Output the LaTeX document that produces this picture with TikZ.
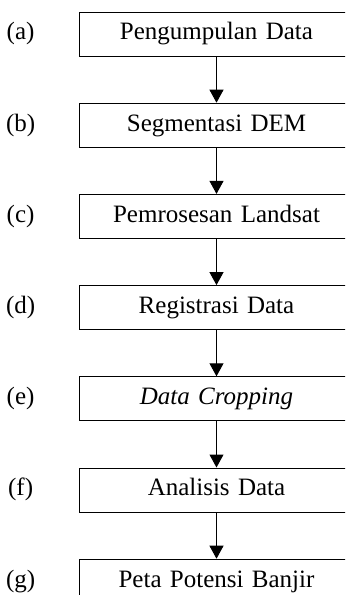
\documentclass[tikz,border=0pt]{standalone}
\usepackage{fontspec}
\setmainfont{Liberation Serif}
\usetikzlibrary{arrows.meta, positioning}

\begin{document}
\begin{tikzpicture}[node distance=23.1pt, font=\fontsize{12.5pt}{15pt}\selectfont,
    stage/.style={rectangle, draw, line width=0.5pt, inner xsep=0pt, text width=137.5pt, align=center, minimum height=22pt, text height=8.5pt, text depth=2.6pt},
    tag/.style={inner sep=0pt, text width=16pt, align=center, text height=8.5pt, text depth=2.6pt, left=20.75pt of #1},
    flow/.style={-{Triangle[width=7pt,length=6.5pt]}, line width=0.5pt}]
    \useasboundingbox (0,0) rectangle (172.5pt,-297.5pt);
    \clip (0,0) rectangle (172.5pt,-297.5pt);

    % steps of the process
    \node (collect) [stage] at (108.25pt,-17pt) {Pengumpulan Data};
    \node (segment) [stage, below=of collect] {Segmentasi DEM};
    \node (landsat) [stage, below=of segment] {Pemrosesan Landsat};
    \node (register) [stage, below=of landsat] {Registrasi Data};
    \node (crop) [stage, below=of register] {\textit{Data Cropping}};
    \node (analyse) [stage, below=of crop] {Analisis Data};
    \node (floodmap) [stage, below=of analyse] {Peta Potensi Banjir};

    % letters on the left
    \node (ta) [tag=collect] {(a)};
    \node (tb) [tag=segment] {(b)};
    \node (tc) [tag=landsat] {(c)};
    \node (td) [tag=register] {(d)};
    \node (te) [tag=crop] {(e)};
    \node (tf) [tag=analyse] {(f)};
    \node (tg) [tag=floodmap] {(g)};

    \draw [flow] (collect) -- (segment);
    \draw [flow] (segment) -- (landsat);
    \draw [flow] (landsat) -- (register);
    \draw [flow] (register) -- (crop);
    \draw [flow] (crop) -- (analyse);
    \draw [flow] (analyse) -- (floodmap);
\end{tikzpicture}
\end{document}
